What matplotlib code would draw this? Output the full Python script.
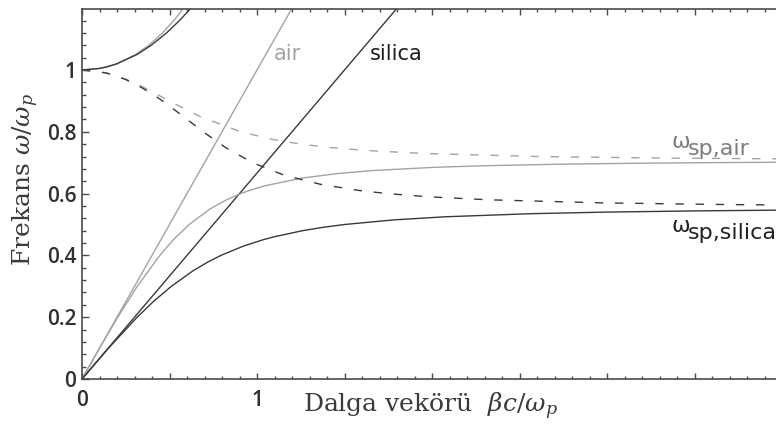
import matplotlib
matplotlib.use("Agg")
import matplotlib.pyplot as plt
from matplotlib.ticker import MultipleLocator, FixedLocator, FuncFormatter
import matplotlib.transforms as mtransforms

# Dispersion of surface plasmon polaritons at a Drude metal / dielectric interface
# beta in units of omega_p / c, omega in units of omega_p

# light lines
air_line_beta = [0.0, 1.25]
air_line_omega = [0.0, 1.25]
silica_line_beta = [0.0, 1.875]
silica_line_omega = [0.0, 1.25]

# bound SPP branch (real beta)
air_lower_beta = [0, 0.1005, 0.2043, 0.3160, 0.4446, 0.5210, 0.6124, 0.7309, 0.8260,
                  0.9071, 0.9557, 1.0431, 1.2547, 1.4610, 1.6717, 2.0116, 2.2843,
                  2.7121, 3.1245, 3.5348, 3.9778]
air_lower_omega = [0, 0.1, 0.2, 0.3, 0.4, 0.45, 0.5, 0.55, 0.58,
                   0.6, 0.61, 0.625, 0.65, 0.665, 0.675, 0.685, 0.69,
                   0.695, 0.698, 0.7, 0.7015]

silica_lower_beta = [0, 0.1517, 0.3151, 0.4068, 0.5104, 0.6339, 0.7237, 0.7937, 0.9218,
                     1.0310, 1.0963, 1.2603, 1.3670, 1.5000, 1.7824, 2.0762, 2.5668,
                     2.9811, 3.5028, 3.8894, 4.0073]
silica_lower_omega = [0, 0.1, 0.2, 0.25, 0.3, 0.35, 0.38, 0.4, 0.43,
                      0.45, 0.46, 0.48, 0.49, 0.5, 0.515, 0.525, 0.535,
                      0.54, 0.544, 0.546, 0.5465]

# imaginary beta between omega_sp and omega_p
air_im_beta = [0, 0.0633, 0.1004, 0.1425, 0.2511, 0.3306, 0.4332, 0.4982, 0.6712,
               0.9071, 1.0918, 1.2538, 1.4031, 1.6132, 1.9450, 2.6047, 3.3362,
               3.8642, 4.0401]
air_im_omega = [1.0, 0.998, 0.995, 0.99, 0.97, 0.95, 0.92, 0.9, 0.85,
                0.8, 0.775, 0.76, 0.75, 0.74, 0.73, 0.72, 0.715,
                0.713, 0.7125]

silica_im_beta = [0, 0.1417, 0.2466, 0.3200, 0.4088, 0.4606, 0.5785, 0.6928, 0.8177,
                  0.9742, 1.1536, 1.3630, 1.5847, 1.7463, 1.9718, 2.3202, 2.9707,
                  3.6119, 3.9047, 4.0196]
silica_im_omega = [1.0, 0.99, 0.97, 0.95, 0.92, 0.9, 0.85, 0.8, 0.75,
                   0.7, 0.66, 0.63, 0.61, 0.6, 0.59, 0.58, 0.57,
                   0.565, 0.5635, 0.563]

# radiative branch above omega_p
air_up_beta = [0, 0.0996, 0.1404, 0.1972, 0.3062, 0.3816, 0.4599, 0.5244, 0.5805, 0.5936]
air_up_omega = [1.0, 1.005, 1.01, 1.02, 1.05, 1.08, 1.12, 1.16, 1.2, 1.21]
silica_up_beta = [0, 0.0999, 0.1412, 0.1993, 0.3137, 0.3956, 0.4831, 0.5570, 0.6224, 0.6378]
silica_up_omega = [1.0, 1.005, 1.01, 1.02, 1.05, 1.08, 1.12, 1.16, 1.2, 1.21]

y_ticks = [0, 0.2, 0.4, 0.6, 0.8, 1.0]
y_tick_labels = ["0", "0.2", "0.4", "0.6", "0.8", "1"]
x_labelled = {0.0: "0", 1.0: "1"}

GRAY = "#a3a3a3"
DARK = "#3a3a3a"
TICK_COLOR = "#303030"
SANS = ["Open Sans", "DejaVu Sans"]
LABEL_SANS = ["DejaVu Sans"]

fig = plt.figure(figsize=(7.76, 4.28), dpi=100)
ax = fig.add_axes([82 / 776, 1 - 379 / 428, 1 - 82 / 776, (379 - 9) / 428])
ax.set_xlim(0, 694 / 175)
ax.set_ylim(0, 370 / 309)

dash = (0, (6, 8.5))
lw = 1.0

ax.plot(air_line_beta, air_line_omega, color=GRAY, lw=lw)
ax.plot(silica_line_beta, silica_line_omega, color=DARK, lw=lw)
ax.plot(air_lower_beta, air_lower_omega, color=GRAY, lw=lw)
ax.plot(silica_lower_beta, silica_lower_omega, color=DARK, lw=lw)
ax.plot(air_im_beta, air_im_omega, color=GRAY, lw=lw, linestyle=dash)
ax.plot(silica_im_beta, silica_im_omega, color=DARK, lw=lw, linestyle=dash)
ax.plot(air_up_beta, air_up_omega, color=GRAY, lw=lw)
ax.plot(silica_up_beta, silica_up_omega, color=DARK, lw=lw)

# spines and ticks
for side in ("left", "bottom", "top"):
    ax.spines[side].set_color("#4a4a4a")
    ax.spines[side].set_linewidth(1.2)
ax.spines["right"].set_visible(False)

ax.yaxis.set_major_locator(FixedLocator(y_ticks))
ax.yaxis.set_minor_locator(MultipleLocator(0.04))
ax.set_yticklabels(y_tick_labels)
ax.xaxis.set_major_locator(MultipleLocator(0.5))
ax.xaxis.set_minor_locator(MultipleLocator(0.1))
ax.xaxis.set_major_formatter(FuncFormatter(lambda v, p: x_labelled.get(round(v, 3), "")))

ax.tick_params(axis="both", which="both", direction="in", top=True, right=False,
               color="#4a4a4a", width=1.0)
ax.tick_params(axis="y", which="major", length=5, pad=4)
ax.tick_params(axis="y", which="minor", length=3)
ax.tick_params(axis="x", which="major", length=4, pad=8)
ax.tick_params(axis="x", which="minor", length=2.5)
for lab in ax.get_xticklabels() + ax.get_yticklabels():
    lab.set_fontfamily(SANS)
    lab.set_fontweight("semibold")
    lab.set_fontsize(15)
    lab.set_color(TICK_COLOR)

# curve annotations
ax.text(1.097, 1.032, "air", color=GRAY, fontsize=15, family=LABEL_SANS, va="baseline")
ax.text(1.646, 1.032, "silica", color="#1e1e1e", fontsize=15, family=LABEL_SANS,
        va="baseline")

sub = mtransforms.offset_copy(ax.transData, fig=fig, x=0, y=-5, units="points")
ax.text(3.371, 0.7476, "ω", color="#7d7d7d", fontsize=16, family=LABEL_SANS, va="baseline")
ax.text(3.462, 0.7476, "sp,air", color="#7d7d7d", fontsize=16, family=LABEL_SANS,
        va="baseline", transform=sub)
ax.text(3.371, 0.4757, "ω", color="#222222", fontsize=16, family=LABEL_SANS, va="baseline")
ax.text(3.462, 0.4757, "sp,silica", color="#222222", fontsize=16, family=LABEL_SANS,
        va="baseline", transform=sub, clip_on=False)

# axis titles
plt.rcParams["mathtext.fontset"] = "dejavuserif"
fig.text(430 / 776, 1 - 412 / 428, r"Dalga vekörü  $\beta c/\omega_p$",
         family="DejaVu Serif", fontsize=18, color="#3a3a3a", ha="center", va="baseline")
fig.text(26 / 776, 1 - 179 / 428, r"Frekans $\omega/\omega_p$",
         family="DejaVu Serif", fontsize=18, color="#3a3a3a", ha="center", va="center",
         rotation=90)

fig.savefig("out.png", dpi=100)
